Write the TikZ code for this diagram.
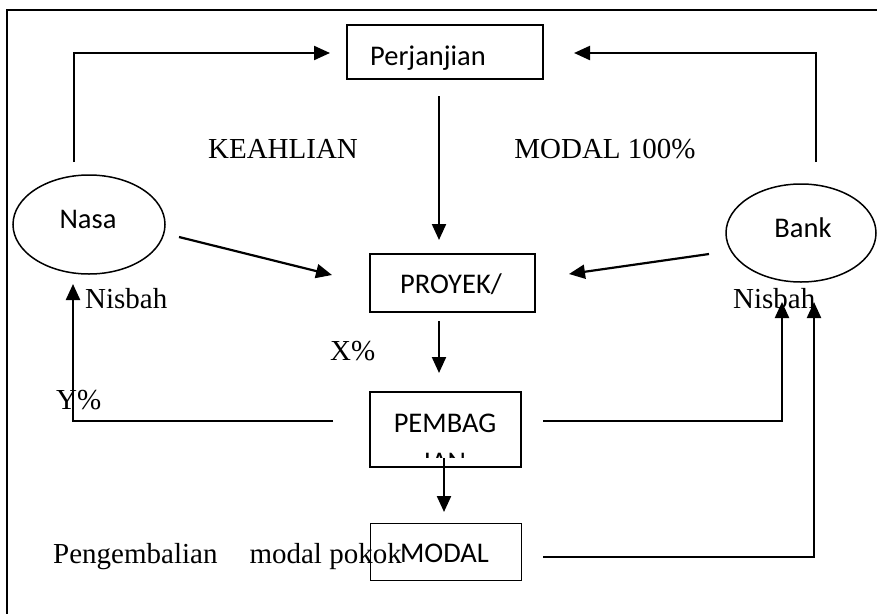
\documentclass[tikz,border=0pt]{standalone}
\usepackage{fontspec}
\setmainfont{Liberation Serif}
\newfontfamily\boxfont{Carlito}
\usetikzlibrary{arrows.meta,shapes.geometric}
\begin{document}
\begin{tikzpicture}[x=1pt,y=-1pt,
  box/.style={draw,line width=1.7pt,inner sep=0pt},
  oval/.style={draw,ellipse,line width=1.5pt,inner sep=0pt},
  btext/.style={inner sep=0pt,font=\boxfont\fontsize{28.5}{32}\selectfont},
  stext/.style={inner sep=0pt,font=\fontsize{29}{34}\selectfont},
  arr/.style={line width=2.2pt,-{Triangle[length=16pt,width=14pt]}},
  conn/.style={line width=2.2pt}]
\useasboundingbox (0,0) rectangle (877,613);
% frame
\draw[line width=1.5pt] (7,620) -- (7,10) -- (885,10);
% boxes
\node[box,minimum width=196pt,minimum height=54pt] (perj) at (445,52) {};
\node[btext,anchor=base] (perjt) at (428,65) {Perjanjian};
\node[box,minimum width=165pt,minimum height=58pt] (proyek) at (452.5,283) {};
\node[btext,anchor=base] (proyekt) at (451,293) {PROYEK/};
\node[box,minimum width=151pt,minimum height=75pt] (pembag) at (445.5,429.5) {};
\node[btext,anchor=base] (pembagt) at (445,432) {PEMBAG};
\begin{scope}
\clip (400,451) rectangle (490,457);
\node[btext,anchor=base] (iant) at (445,471) {IAN};
\end{scope}
% ellipses
\node[oval,minimum width=152pt,minimum height=99pt] (nasa) at (89,224.5) {};
\node[btext,anchor=base] (nasat) at (88,228) {Nasa};
\node[oval,minimum width=150pt,minimum height=98pt] (bank) at (801,233) {};
\node[btext,anchor=base] (bankt) at (803,237) {Bank};
% labels
\node[stext,anchor=base] (keahlian) at (283,158) {KEAHLIAN};
\node[stext,anchor=base] (modal100) at (605,158) {MODAL 100\%};
\node[stext,anchor=base west] (nisbahl) at (85,308) {Nisbah};
\node[stext,anchor=base west] (nisbahr) at (733,308) {Nisbah};
\node[stext,anchor=base west] (xp) at (330,360) {X\%};
\node[stext,anchor=base west] (yp) at (56,409) {Y\%};
\node[stext,anchor=base west] (peng) at (53,563) {Pengembalian\hspace{32pt}modal pokok};
\node[box,minimum width=151pt,minimum height=57pt] (modal) at (446,552) {};
\node[btext,anchor=base] (modalt) at (444.5,562) {MODAL};
% connector end points
\coordinate (c1a) at (74,162);
\coordinate (c1b) at (330,53);
\coordinate (c2a) at (816,162);
\coordinate (c2b) at (574,53);
\coordinate (c3a) at (439,96);
\coordinate (c3b) at (439,240);
\coordinate (c4a) at (179,237);
\coordinate (c4b) at (332,275);
\coordinate (c5a) at (709,254);
\coordinate (c5b) at (569,274);
\coordinate (c6a) at (439,321);
\coordinate (c6b) at (439,373);
\coordinate (c7a) at (333,421);
\coordinate (c7b) at (73,284);
\coordinate (c8a) at (543,421);
\coordinate (c8b) at (782,302);
\coordinate (c9a) at (444,458);
\coordinate (c9b) at (444,512);
\coordinate (c10a) at (543,557);
\coordinate (c10b) at (814,302);
% connectors
\draw[arr] (c1a) |- (c1b);
\draw[arr] (c2a) |- (c2b);
\draw[arr] (c3a) -- (c3b);
\draw[arr] (c4a) -- (c4b);
\draw[arr] (c5a) -- (c5b);
\draw[arr] (c6a) -- (c6b);
\draw[arr] (c7a) -| (c7b);
\draw[arr] (c8a) -| (c8b);
\draw[arr] (c9a) -- (c9b);
\draw[arr] (c10a) -| (c10b);
\end{tikzpicture}
\end{document}
